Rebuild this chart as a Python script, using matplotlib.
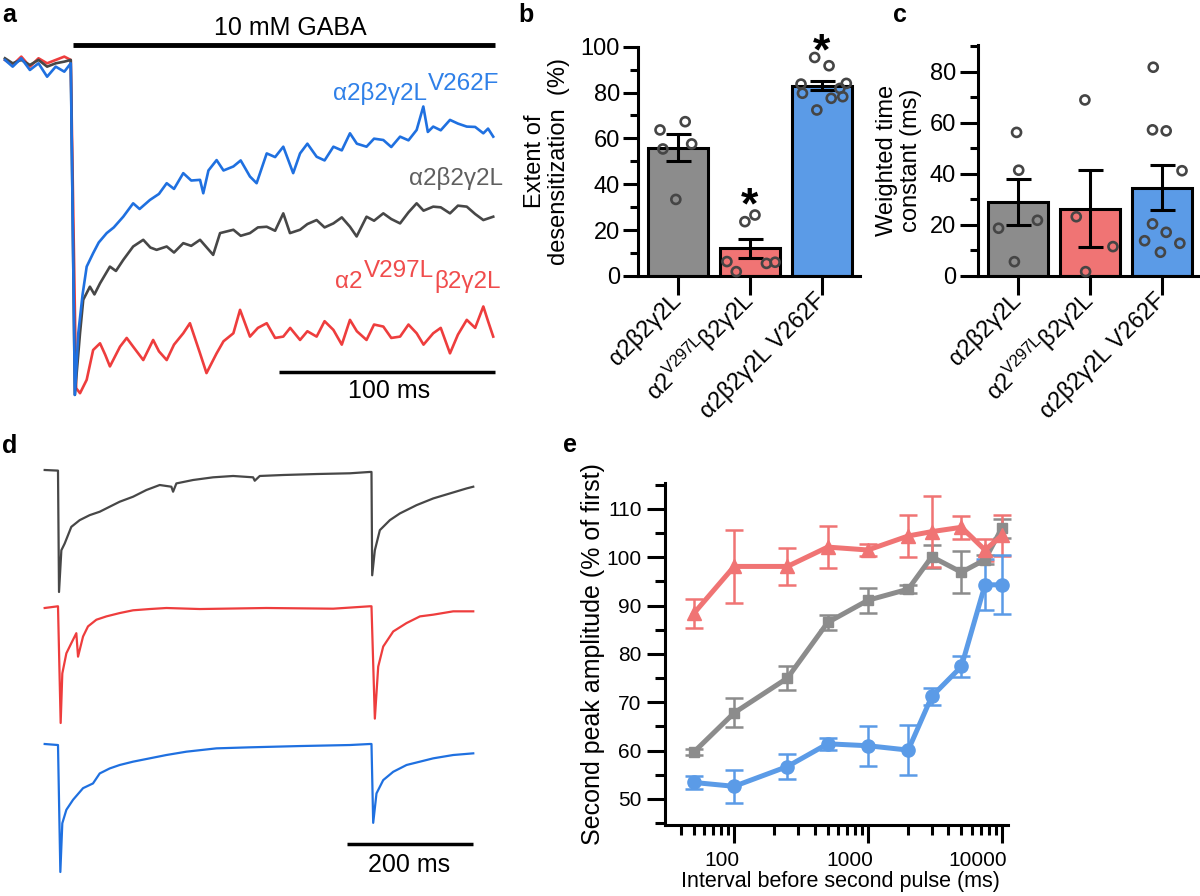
import numpy as np
import matplotlib
matplotlib.use("Agg")
import matplotlib.pyplot as plt
import matplotlib.transforms as mtransforms
from matplotlib.ticker import MultipleLocator, LogLocator, NullFormatter, FixedLocator, FixedFormatter

plt.rcParams['font.family'] = ['Liberation Sans', 'DejaVu Sans']
plt.rcParams['mathtext.fontset'] = 'custom'
plt.rcParams['mathtext.rm'] = 'Liberation Sans'
plt.rcParams['mathtext.it'] = 'Liberation Sans:italic'

# ---------------- panel a: currents (ms from GABA onset, fraction of peak) ----------------
blue_t = [-31.6, -28, -24, -20, -16, -12, -8, -4, -1, 0.9, 2.5, 4.5, 6.4, 9.4, 12.0, 15.7, 19.0,
          23.4, 28.0, 31.0, 35.8, 40.0, 43.6, 47.0, 51.3, 55.0, 59.1, 60.6, 63.0, 66.8, 70.0, 74.6,
          78.0, 82.3, 85.4, 90.1, 94.0, 97.8, 102.4, 105.6, 109.0, 113.3, 117.0, 121.1, 125.0, 128.8,
          132.0, 136.5, 140.0, 144.3, 148.0, 152.1, 156.0, 159.8, 162.9, 165.0, 167.5, 171.0, 175.3,
          179.0, 183.1, 187.0, 190.8, 193.0, 195.4]
blue_i = [0.0, -0.02, 0.005, -0.03, -0.01, -0.05, -0.02, -0.035, -0.01, -1.0, -0.816, -0.70, -0.617,
          -0.577, -0.545, -0.517, -0.50, -0.468, -0.428, -0.445, -0.418, -0.40, -0.368, -0.385, -0.338,
          -0.36, -0.358, -0.398, -0.33, -0.299, -0.33, -0.318, -0.30, -0.348, -0.368, -0.279, -0.29,
          -0.259, -0.338, -0.279, -0.25, -0.289, -0.30, -0.259, -0.27, -0.219, -0.25, -0.259, -0.235,
          -0.239, -0.26, -0.229, -0.24, -0.209, -0.139, -0.215, -0.199, -0.21, -0.179, -0.19, -0.199,
          -0.20, -0.219, -0.205, -0.229]
gray_t = [-31.6, -28, -24, -20, -16, -12, -8, -4, -1, 0.9, 3.3, 4.8, 7.9, 10.0, 12.6, 17.2, 20.0,
          23.4, 28.0, 32.7, 36.0, 38.9, 43.6, 47.0, 51.3, 55.0, 59.1, 65.2, 68.4, 74.6, 78.0, 82.3,
          86.0, 90.1, 94.0, 97.8, 100.9, 105.6, 109.0, 113.3, 117.0, 121.1, 125.0, 128.8, 131.9, 136.5,
          140.0, 144.3, 148.0, 152.1, 156.0, 159.8, 163.0, 167.5, 171.0, 175.3, 179.0, 183.1, 187.0,
          190.8, 195.4]
gray_i = [0.005, -0.01, 0.0, -0.015, 0.0, -0.02, -0.01, -0.005, 0.0, -1.0, -0.816, -0.716, -0.677,
          -0.70, -0.667, -0.617, -0.63, -0.597, -0.557, -0.537, -0.56, -0.567, -0.557, -0.575, -0.547,
          -0.555, -0.537, -0.582, -0.517, -0.507, -0.525, -0.517, -0.50, -0.498, -0.51, -0.458, -0.517,
          -0.507, -0.49, -0.478, -0.50, -0.488, -0.47, -0.498, -0.527, -0.468, -0.48, -0.458, -0.475,
          -0.488, -0.455, -0.428, -0.45, -0.438, -0.44, -0.458, -0.435, -0.438, -0.46, -0.478, -0.468]
red_t = [-31.6, -28, -24, -20, -16, -12, -8, -4, -1, 1.5, 3.3, 6.4, 9.4, 12.6, 15.0, 17.2, 21.9,
         25.0, 28.0, 32.7, 37.3, 40.0, 43.6, 47.0, 51.3, 54.4, 59.1, 62.1, 66.8, 70.0, 74.6, 77.7,
         82.3, 86.0, 90.1, 94.0, 97.8, 101.0, 105.6, 109.0, 113.3, 117.0, 121.1, 125.0, 128.8, 132.0,
         136.5, 140.0, 144.3, 148.0, 152.1, 156.0, 159.8, 163.0, 167.5, 171.0, 175.3, 179.0, 183.1,
         187.0, 190.8, 193.0, 195.4]
red_i = [0.0, -0.015, 0.01, -0.02, 0.005, -0.01, 0.0, 0.01, 0.0, -0.98, -0.995, -0.955, -0.866,
         -0.846, -0.88, -0.915, -0.856, -0.83, -0.856, -0.896, -0.836, -0.87, -0.896, -0.85, -0.816,
         -0.786, -0.876, -0.935, -0.876, -0.84, -0.816, -0.746, -0.826, -0.80, -0.786, -0.83, -0.826,
         -0.80, -0.836, -0.81, -0.826, -0.78, -0.806, -0.85, -0.776, -0.81, -0.836, -0.79, -0.796,
         -0.83, -0.826, -0.79, -0.816, -0.85, -0.816, -0.80, -0.876, -0.82, -0.776, -0.80, -0.736,
         -0.78, -0.826]

# ---------------- panels b, c ----------------
groups = ['α2β2γ2L', r'α2$^{\mathregular{V297L}}$β2γ2L', 'α2β2γ2L V262F']
desens_mean = [56.0, 12.0, 83.0]
desens_sem = [6.0, 4.3, 2.0]
desens_pts = [[63.7, 67.3, 57.6, 55.4, 33.4],
              [23.7, 26.6, 6.3, 1.9, 5.5, 6.0],
              [95.3, 91.7, 83.7, 84.0, 79.7, 77.5, 78.2, 72.4, 81.8]]
desens_jit = [[-0.25, 0.10, 0.19, -0.21, -0.03],
              [-0.07, 0.07, -0.32, -0.19, 0.23, 0.35],
              [-0.10, 0.10, -0.29, 0.34, -0.27, 0.13, 0.29, -0.07, 0.25]]
desens_star = [None, 36.0, 103.1]
tau_mean = [29.0, 26.3, 34.6]
tau_sem = [9.0, 15.0, 8.7]
tau_pts = [[56.2, 41.4, 18.7, 21.8, 5.6],
           [68.9, 23.2, 11.5, 1.7],
           [81.7, 57.2, 56.8, 41.2, 20.4, 17.1, 13.8, 12.8, 9.3]]
tau_jit = [[-0.02, 0.01, -0.27, 0.27, -0.05],
           [-0.07, -0.19, 0.32, -0.06],
           [-0.12, -0.13, 0.06, 0.28, -0.13, 0.06, -0.24, 0.25, -0.02]]

# ---------------- panel d: paired pulses ----------------
d_gray_t = [-21.0, 0.0, 1.6, 5.3, 10.5, 15.8, 21.0, 34.2, 50.0, 65.8, 81.5, 97.3, 118.4, 139.4, 160.4,
            178.8, 181.5, 186.7, 213.0, 244.6, 276.2, 307.7, 310.3, 318.2, 355.1, 407.7, 460.3, 491.8,
            494.4, 495.5, 499.7, 507.6, 523.4, 539.2, 565.5, 591.8, 618.1, 644.4, 654.9]
d_gray_i = [0.0, -0.005, -1.0, -0.658, -0.603, -0.534, -0.466, -0.411, -0.370, -0.342, -0.301, -0.260,
            -0.219, -0.164, -0.123, -0.137, -0.178, -0.110, -0.082, -0.060, -0.049, -0.060, -0.088,
            -0.049, -0.041, -0.033, -0.027, -0.016, -0.016, -0.863, -0.658, -0.493, -0.411, -0.356,
            -0.288, -0.233, -0.192, -0.151, -0.137]
d_red_t = [-21.0, 0.0, 4.2, 6.8, 13.2, 21.0, 28.9, 31.6, 39.5, 47.3, 60.5, 76.3, 97.3, 118.4, 144.7,
           171.0, 223.6, 328.8, 434.0, 491.8, 494.4, 499.7, 505.0, 512.9, 528.7, 549.7, 570.8, 591.8,
           623.3, 654.9]
d_red_i = [0.0, 0.015, -1.0, -0.569, -0.394, -0.306, -0.219, -0.423, -0.248, -0.160, -0.102, -0.073,
           -0.044, -0.020, -0.009, 0.0, -0.009, 0.0, -0.006, 0.015, 0.015, -0.962, -0.510, -0.335,
           -0.204, -0.131, -0.073, -0.058, -0.029, -0.029]
d_blue_t = [-21.0, 0.0, 3.7, 6.8, 13.2, 23.7, 39.5, 55.2, 65.8, 81.5, 97.3, 118.4, 144.7, 171.0, 202.5,
            249.9, 302.5, 381.4, 460.3, 491.8, 494.4, 497.1, 502.3, 512.9, 528.7, 549.7, 570.8, 591.8,
            623.3, 654.9]
d_blue_i = [0.0, -0.008, -1.0, -0.619, -0.514, -0.436, -0.345, -0.308, -0.230, -0.191, -0.164, -0.138,
            -0.112, -0.086, -0.060, -0.034, -0.026, -0.016, -0.008, 0.0, 0.0, -0.616, -0.386, -0.282,
            -0.217, -0.164, -0.138, -0.112, -0.086, -0.073]

# ---------------- panel e: recovery ----------------
e_interval = [50, 100, 250, 500, 1000, 2000, 3000, 5000, 7500, 10000]
e_wt = [59.7, 67.8, 75.0, 86.5, 91.1, 93.4, 100.1, 96.9, 99.5, 106.0]
e_wt_err = [0.7, 3.0, 2.4, 1.6, 2.6, 0.8, 2.4, 4.3, 1.0, 2.0]
e_v297l = [88.4, 98.1, 98.1, 102.1, 101.5, 104.4, 105.3, 106.2, 101.5, 104.5]
e_v297l_err = [3.0, 7.5, 3.9, 4.3, 1.3, 4.3, 7.3, 2.4, 2.2, 4.2]
e_v262f = [53.4, 52.6, 56.7, 61.4, 61.0, 60.1, 71.2, 77.4, 94.3, 94.3]
e_v262f_err = [1.3, 3.4, 2.6, 1.3, 4.1, 5.1, 1.8, 2.2, 5.3, 6.1]

C_GRAY_TR, C_RED_TR, C_BLUE_TR = '#474747', '#ee3d3d', '#1f70e0'
C_GRAY, C_RED, C_BLUE = '#8c8c8c', '#f07474', '#5b9be7'

W, H = 1200, 896
fig = plt.figure(figsize=(12, 8.96), dpi=100)


def rect(x0, y0, x1, y1):
    # pixel box (top-left origin) -> figure fraction
    return [x0 / W, 1 - y1 / H, (x1 - x0) / W, (y1 - y0) / H]


def ftext(x, y, s, **kw):
    return fig.text(x / W, 1 - y / H, s, va='baseline', **kw)


def after(prev, s, dy, **kw):
    # text placed right after another text, dy pixels up (for super/subscript pieces)
    return fig.axes[0].annotate(s, xy=(1, 0), xycoords=prev, xytext=(1, dy),
                                textcoords='offset pixels', ha='left', va='bottom',
                                annotation_clip=False, **kw)


# panel letters
for lab, x, y in [('a', 2, 22), ('b', 518, 22), ('c', 893, 22), ('d', 2, 453), ('e', 563, 452)]:
    ftext(x, y, lab, fontsize=18, fontweight='bold')

# ---- a ----
ax = fig.add_axes(rect(0, 0, 510, 420))
ax.plot(red_t, red_i, color=C_RED_TR, lw=1.9)
ax.plot(gray_t, gray_i, color=C_GRAY_TR, lw=1.9)
ax.plot(blue_t, blue_i, color=C_BLUE_TR, lw=1.9)
ax.plot([0, 196], [0.045, 0.045], color='k', lw=3.5, solid_capstyle='butt')
ax.text(101, 0.075, '10 mM GABA', ha='center', va='baseline', fontsize=18)
ax.plot([96, 196], [-0.931, -0.931], color='k', lw=2.5, solid_capstyle='butt')
ax.text(147, -1.009, '100 ms', ha='center', va='baseline', fontsize=18)
ax.set_xlim(-33.9, 203.2)
ax.set_ylim(-1.075, 0.179)
ax.axis('off')

LBL = 17.5
t1 = ftext(333, 100, 'α2β2γ2L', color='#2f80e8', fontsize=LBL)
after(t1, 'V262F', 10, color='#2f80e8', fontsize=LBL)
ftext(503, 185, 'α2β2γ2L', color='#5f5f5f', fontsize=LBL, ha='right')
r1 = ftext(335, 288, 'α2', color='#f04c4c', fontsize=LBL)
r2 = after(r1, 'V297L', 11, color='#f04c4c', fontsize=LBL)
after(r2, 'β2γ2L', -11, color='#f04c4c', fontsize=LBL)


def style_bar_axes(a, ylim, major, minor):
    a.set_xlim(-0.556, 2.53)
    a.set_ylim(*ylim)
    for s in ['top', 'right']:
        a.spines[s].set_visible(False)
    for s in ['left', 'bottom']:
        a.spines[s].set_linewidth(2.2)
    a.yaxis.set_major_locator(MultipleLocator(major))
    a.yaxis.set_minor_locator(MultipleLocator(minor))
    a.tick_params(axis='y', which='major', length=11, width=2.2, labelsize=17, pad=2)
    a.tick_params(axis='y', which='minor', length=5.5, width=2.2)
    a.tick_params(axis='x', length=14, width=2.2, labelsize=17, pad=1)
    a.set_xticks(range(3))
    a.set_xticklabels(groups, rotation=45, ha='right', va='center', rotation_mode='anchor')


def bar_panel(a, mean, sem, pts, jit):
    pos = np.arange(3)
    a.bar(pos, mean, width=0.83, color=[C_GRAY, C_RED, C_BLUE], edgecolor='k', lw=2.2, zorder=1)
    a.errorbar(pos, mean, yerr=sem, fmt='none', ecolor='k', elinewidth=2.2, capsize=9,
               capthick=2.2, zorder=3)
    for i in range(3):
        a.scatter(i + np.array(jit[i]), pts[i], s=42, facecolors='none', edgecolors='#454545',
                  linewidths=1.9, zorder=4, clip_on=False)


# ---- b ----
bx = fig.add_axes(rect(638, 46.7, 860, 276))
bar_panel(bx, desens_mean, desens_sem, desens_pts, desens_jit)
style_bar_axes(bx, (0, 100), 20, 10)
bx.set_ylabel('Extent of\ndesensitization  (%)', fontsize=17, linespacing=1.15)
bx.yaxis.set_label_coords(-0.306, 0.5)
for x, y in enumerate(desens_star):
    if y is not None:
        # star glyph centre at y: baseline sits ~25 px lower
        bx.annotate('*', xy=(x, y), xytext=(0, -25), textcoords='offset pixels', ha='center',
                    va='baseline', fontsize=32, fontweight='bold', annotation_clip=False)

# ---- c ----
cx = fig.add_axes(rect(978, 45, 1200, 276))
bar_panel(cx, tau_mean, tau_sem, tau_pts, tau_jit)
style_bar_axes(cx, (0, 90.4), 20, 10)
cx.tick_params(axis='y', which='major', length=13, pad=3)
cx.tick_params(axis='y', which='minor', length=6)
cx.set_ylabel('Weighted time\nconstant (ms)', fontsize=17, linespacing=1.15)
cx.yaxis.set_label_coords(-0.252, 0.5)

# ---- d ----
for t, i, col, (y0, y1) in [(d_gray_t, d_gray_i, C_GRAY_TR, (470, 592)),
                            (d_red_t, d_red_i, C_RED_TR, (608, 723)),
                            (d_blue_t, d_blue_i, C_BLUE_TR, (744, 872))]:
    dx = fig.add_axes(rect(45, y0, 473, y1))
    dx.plot(t, i, color=col, lw=1.6, clip_on=False)
    dx.set_xlim(-20.5, 654.5)
    dx.set_ylim(-1, 0)
    dx.axis('off')
dx.plot([455, 655], [-0.781, -0.781], color='k', lw=2.5, solid_capstyle='butt', clip_on=False)
dx.text(553, -1.0, '200 ms', ha='center', va='baseline', fontsize=18, clip_on=False)

# ---- e ----
ex = fig.add_axes(rect(665, 483.3, 1008.3, 825))
ex.set_xscale('log')
for y, err, col, mk, ms in [(e_wt, e_wt_err, C_GRAY, 's', 7.5),
                            (e_v297l, e_v297l_err, C_RED, '^', 10.5),
                            (e_v262f, e_v262f_err, C_BLUE, 'o', 9.5)]:
    ex.errorbar(e_interval, y, yerr=err, color=col, lw=3.6, marker=mk, ms=ms, capsize=6.5,
                capthick=1.8, elinewidth=1.8, clip_on=False)
ex.set_xlim(30.4, 11200)
ex.set_ylim(44.6, 115.3)
for s in ['top', 'right']:
    ex.spines[s].set_visible(False)
for s in ['left', 'bottom']:
    ex.spines[s].set_linewidth(2.2)
ex.xaxis.set_major_locator(FixedLocator([100, 1000, 10000]))
ex.xaxis.set_major_formatter(FixedFormatter(['100', '1000', '10000']))
ex.xaxis.set_minor_locator(LogLocator(base=10, subs=range(2, 10), numticks=20))
ex.xaxis.set_minor_formatter(NullFormatter())
ex.yaxis.set_major_locator(MultipleLocator(10))
ex.yaxis.set_minor_locator(MultipleLocator(5))
ex.tick_params(which='major', length=13, width=2.2, labelsize=15)
ex.tick_params(which='minor', length=7, width=2.2)
ex.tick_params(axis='y', pad=4)
ex.tick_params(axis='x', pad=6)
shift = mtransforms.ScaledTranslation(5 / 100, 0, fig.dpi_scale_trans)
for lab in ex.get_xticklabels():
    lab.set_ha('right')
    lab.set_transform(lab.get_transform() + shift)
ex.set_ylabel('Second peak amplitude (% of first)', fontsize=18)
ex.yaxis.set_label_coords(-0.175, 0.5)
ex.set_xlabel('Interval before second pulse (ms)', fontsize=15.5)
ex.xaxis.set_label_coords(0.51, -0.135)

fig.savefig('out.png', dpi=100)
